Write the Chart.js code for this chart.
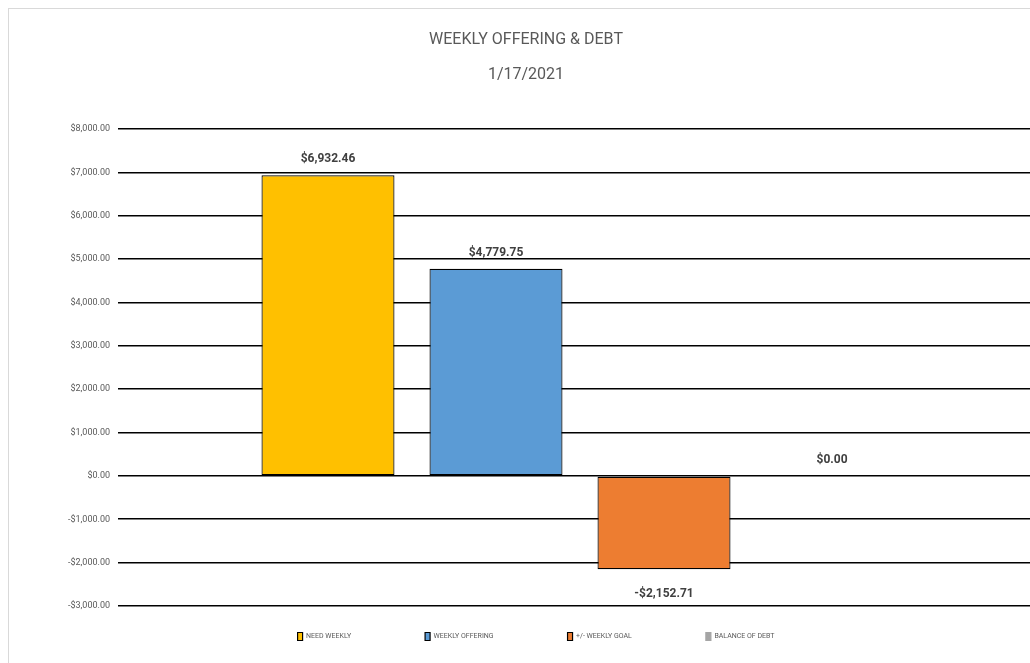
<!DOCTYPE html>
<html>
<head>
<meta charset="utf-8">
<script src="https://cdn.jsdelivr.net/npm/chart.js@4/dist/chart.umd.min.js"></script>
<style>
  html, body { margin: 0; padding: 0; background: #ffffff; overflow: hidden; width: 1030px; height: 663px; }
  #frame { position: absolute; left: 8px; top: 8px; width: 1200px; height: 800px; border: 1px solid #d9d9d9; box-sizing: border-box; }
  #wrap { position: absolute; left: 0; top: 0; width: 1060px; height: 663px; }
</style>
</head>
<body>
<div id="frame"></div>
<div id="wrap"><canvas id="c"></canvas></div>
<script>
// ---- data ----
const categories = ['1/17/2021'];
const seriesLabels = ['NEED WEEKLY', 'WEEKLY OFFERING', '+/- WEEKLY GOAL', 'BALANCE OF DEBT'];
const needWeekly = [6932.46];
const weeklyOffering = [4779.75];
const weeklyGoalDiff = [-2152.71];
const balanceOfDebt = [0.00];
const titleLines = ['WEEKLY OFFERING & DEBT', '1/17/2021'];
const yMin = -3000, yMax = 8000, yStep = 1000;

function money(v) {
  const s = Math.abs(v).toLocaleString('en-US', { minimumFractionDigits: 2, maximumFractionDigits: 2 });
  return (v < 0 ? '-$' : '$') + s;
}

const FONT = 'Roboto, "Liberation Sans", sans-serif';

const valueLabels = {
  id: 'valueLabels',
  afterDatasetsDraw(chart) {
    const ctx = chart.ctx;
    ctx.save();
    ctx.font = 'bold 12px ' + FONT;
    ctx.fillStyle = '#404040';
    ctx.textAlign = 'center';
    ctx.textBaseline = 'middle';
    chart.data.datasets.forEach((ds, i) => {
      const meta = chart.getDatasetMeta(i);
      meta.data.forEach((el, j) => {
        const v = ds.data[j];
        const y = v < 0 ? el.y + 25 : el.y - 16;
        ctx.fillText(money(v), el.x, y);
      });
    });
    ctx.restore();
  }
};

const legendPlace = {
  id: 'legendPlace',
  afterLayout(chart) {
    const lg = chart.legend;
    if (!lg) return;
    const pad = lg.options.labels.padding;
    lg.top = 636 - pad - 3.5;
    lg.bottom = chart.height;
    lg.left = 30;
    lg.right = 1042;
  }
};

const datasets = [
  { label: seriesLabels[0], data: needWeekly, backgroundColor: '#FFC000', borderColor: '#000000' },
  { label: seriesLabels[1], data: weeklyOffering, backgroundColor: '#5B9BD5', borderColor: '#000000' },
  { label: seriesLabels[2], data: weeklyGoalDiff, backgroundColor: '#ED7D31', borderColor: '#000000' },
  { label: seriesLabels[3], data: balanceOfDebt, backgroundColor: '#A5A5A5', borderColor: '#A5A5A5' }
].map(d => Object.assign(d, { borderWidth: 1.2, borderSkipped: false, categoryPercentage: 0.7273, barPercentage: 0.7917 }));

new Chart(document.getElementById('c'), {
  type: 'bar',
  data: { labels: categories, datasets: datasets },
  plugins: [valueLabels, legendPlace],
  options: {
    responsive: true,
    maintainAspectRatio: false,
    animation: false,
    devicePixelRatio: 1,
    layout: { padding: { left: 10, right: 18, top: 0, bottom: 0 } },
    scales: {
      x: { display: false },
      y: {
        min: yMin, max: yMax,
        afterFit(scale) { scale.width = 108; },
        border: { display: false },
        grid: { color: '#000000', lineWidth: 1.6, drawTicks: false },
        ticks: {
          stepSize: yStep,
          padding: 8,
          color: '#595959',
          font: { family: FONT, size: 9 },
          callback: (v) => money(v)
        }
      }
    },
    plugins: {
      tooltip: { enabled: false },
      title: {
        display: true,
        text: titleLines,
        color: '#595959',
        font: { family: FONT, size: 16, weight: 'normal', lineHeight: 2.19 },
        padding: { top: 22, bottom: 37 }
      },
      legend: {
        display: true,
        position: 'bottom',
        maxHeight: 57,
        labels: {
          color: '#595959',
          font: { family: FONT, size: 7 },
          boxWidth: 5,
          boxHeight: 8,
          padding: 74
        }
      }
    }
  }
});
</script>
</body>
</html>
